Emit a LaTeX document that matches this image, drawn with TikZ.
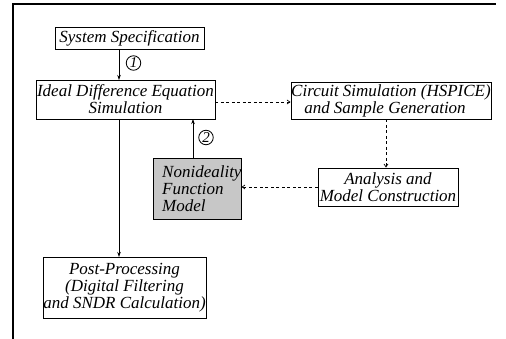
\documentclass[tikz,border=0pt]{standalone}
\usepackage{fontspec}
\setmainfont{Liberation Serif}
\usetikzlibrary{arrows.meta}
\begin{document}
\begin{tikzpicture}[x=1pt,y=-1pt,
  box/.style={draw, line width=0.8pt, inner sep=0pt, align=center, font=\fontsize{17}{17}\selectfont\itshape},
  conn/.style={line width=0.7pt, -{Stealth[length=5pt,width=3.5pt]}},
  dconn/.style={line width=0.7pt, dash pattern=on 3pt off 2.5pt, -{Straight Barb[length=3pt,width=4pt]}},
  num/.style={circle, draw, line width=0.8pt, inner sep=0pt, minimum size=14.5pt, font=\fontsize{15}{15}\selectfont\itshape}]
\useasboundingbox (0,0) rectangle (506,339);
\draw[line width=1.2pt] (13,339) -- (13,4) -- (496,4);
\node[box, minimum width=149pt, minimum height=22pt] (spec) at (129.5,38) {System Specification};
\node[box, minimum width=179pt, minimum height=39pt] (ideal) at (125.5,99.5) {Ideal Difference Equation\\Simulation};
\node[box, minimum width=200pt, minimum height=37pt] (circ) at (391,100.5) {Circuit Simulation (HSPICE)\\\hspace*{-12pt}and Sample Generation};
\node[box, fill=black!22, minimum width=88pt, minimum height=61pt] (non) at (197,188.5) {};
\node[font=\fontsize{17}{17}\selectfont\itshape, align=left, anchor=west, inner sep=0pt] (nontext) at (162,188.5) {Nonideality\\Function\\Model};
\node[box, minimum width=140pt, minimum height=38pt] (ana) at (388,187) {Analysis and\\Model Construction};
\node[box, minimum width=163pt, minimum height=61pt] (post) at (124.5,287.5) {Post-Processing\\(Digital Filtering\\and SNDR Calculation)};
\coordinate (a1) at (119,49);
\coordinate (a2) at (119,80);
\draw[conn] (a1) -- (a2);
\node[num] (n1) at (133.5,63) {1};
\coordinate (b1) at (193,158);
\coordinate (b2) at (193,119);
\draw[conn] (b1) -- (b2);
\node[num] (n2) at (206,137.5) {2};
\coordinate (c1) at (119,119);
\coordinate (c2) at (119,257);
\draw[conn] (c1) -- (c2);
\draw[dconn] (ideal.east |- 0,102) -- (circ.west |- 0,102);
\draw[dconn] (circ.south -| 386,0) -- (ana.north -| 386,0);
\draw[dconn] (ana.west) -- (non.east |- ana.west);
\end{tikzpicture}
\end{document}
